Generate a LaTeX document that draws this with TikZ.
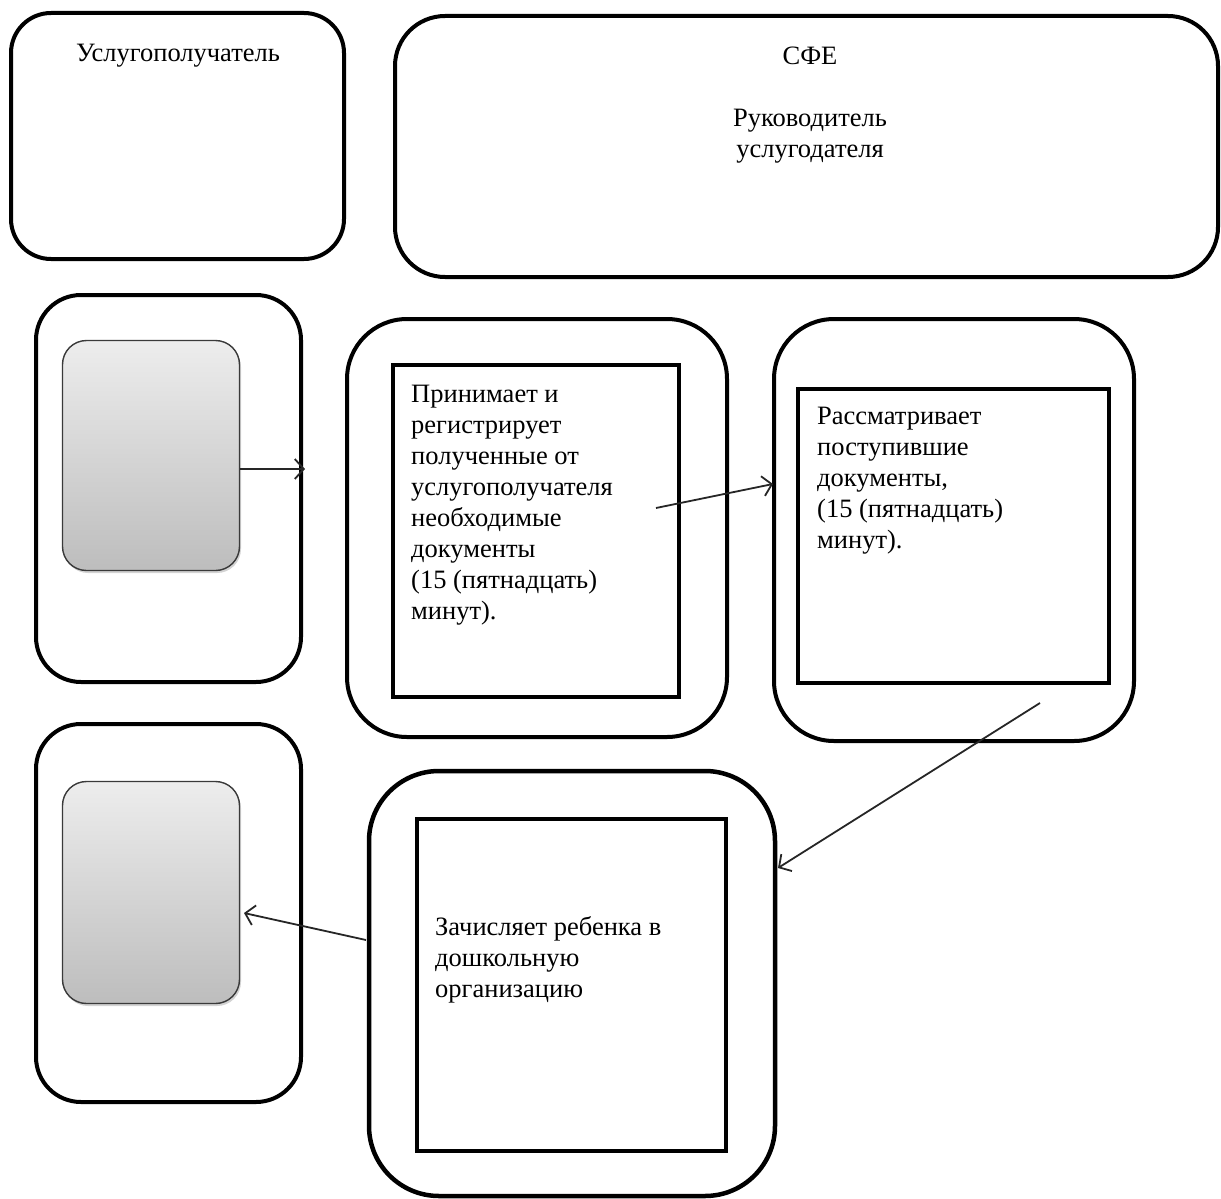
\documentclass[tikz,border=0pt]{standalone}
\usepackage{fontspec}
\setmainfont{Liberation Serif}
\newfontfamily\tnr{Liberation Serif}
\usetikzlibrary{arrows.meta,shadows}
\definecolor{gtop}{HTML}{EDEDED}
\definecolor{gbot}{HTML}{BDBDBD}
\definecolor{gedge}{HTML}{3A3A3A}
\begin{document}
\begin{tikzpicture}[x=1pt,y=-1pt,
  lane/.style={draw=black,line width=4pt,rounded corners=#1,inner sep=0pt},
  lane/.default=45pt,
  inbox/.style={draw=black,line width=4pt,inner sep=0pt},
  grad/.style={draw=gedge,line width=1.4pt,rounded corners=24pt,inner sep=0pt,
    top color=gtop,bottom color=gbot,
    drop shadow={shadow xshift=1.5pt,shadow yshift=-2.5pt,opacity=0.35,fill=gray}},
  txt/.style={font=\tnr\fontsize{26.5}{31}\selectfont,inner sep=0pt,align=flush left,anchor=base west,text width=300pt},
  ctxt/.style={font=\tnr\fontsize{26.5}{31}\selectfont,inner sep=0pt,anchor=base},
  flow/.style={draw=black!85,line width=1.8pt,-{Straight Barb[length=9pt,width=20pt,line width=1.8pt]}}
]
\useasboundingbox (0,0) rectangle (1221,1199);
% top lanes
\node[lane=40pt,minimum width=333pt,minimum height=246pt] (recv) at (177.5,136) {};
\node[ctxt] (recvt) at (178,62) {Услугополучатель};
\node[lane=50pt,minimum width=823pt,minimum height=261pt] (sfe) at (806.5,146.5) {};
\node[ctxt] (sfet) at (810,65) {СФЕ};
\node[ctxt,align=center] (head) at (810,157) {Руководитель\\услугодателя};
% row 2
\node[lane=45pt,minimum width=265pt,minimum height=387pt] (l2) at (168.5,488.5) {};
\node[grad,minimum width=177pt,minimum height=230pt] (g1) at (151,455.5) {};
\node[lane=60pt,minimum width=380pt,minimum height=418pt] (m2) at (537,528) {};
\node[inbox,minimum width=286pt,minimum height=332pt] (r2) at (536,531) {};
\node[txt] (t2) at (411,402) {Принимает и\\регистрирует\\полученные от\\услугополучателя\\необходимые\\документы\\(15 (пятнадцать)\\минут).};
\node[lane=60pt,minimum width=360pt,minimum height=422pt] (m3) at (954,530) {};
\node[inbox,minimum width=311pt,minimum height=294pt] (r3) at (953.5,536) {};
\node[txt] (t3) at (817,424) {Рассматривает\\поступившие\\документы,\\(15 (пятнадцать)\\минут).};
% row 3
\node[lane=45pt,minimum width=265pt,minimum height=378pt] (l3) at (168.5,913) {};
\node[grad,minimum width=177pt,minimum height=222pt] (g2) at (151,892.5) {};
\node[lane=70pt,minimum width=406pt,minimum height=425pt,line width=4.5pt] (m4) at (572,983.5) {};
\node[inbox,minimum width=309pt,minimum height=332pt] (r4) at (571.5,985) {};
\node[txt] (t4) at (435,935) {Зачисляет ребенка в\\дошкольную\\организацию};
% connector ends
\coordinate (a1e) at (305,469);
\coordinate (a2s) at (656,508);
\coordinate (a2e) at (773,484);
\coordinate (a3s) at (1040,703);
\coordinate (a3e) at (778,868);
\coordinate (a4s) at (366,940);
\coordinate (a4e) at (244,913);
\draw[flow] (g1.east |- a1e) -- (a1e);
\draw[flow] (a2s) -- (a2e);
\draw[flow] (a3s) -- (a3e);
\draw[flow] (a4s) -- (a4e);
\end{tikzpicture}
\end{document}
